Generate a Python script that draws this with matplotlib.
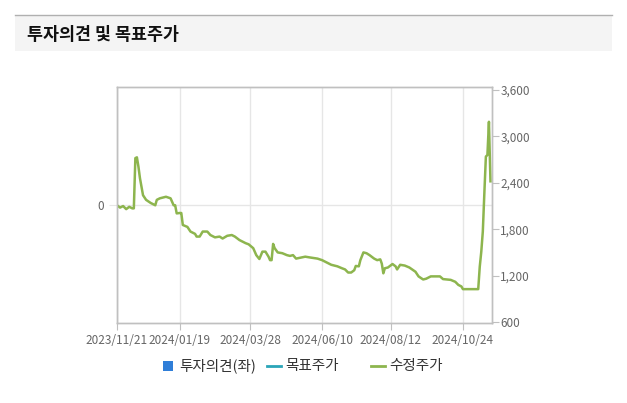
import matplotlib
matplotlib.use("Agg")
import matplotlib.pyplot as plt
from matplotlib.patches import Rectangle
from matplotlib.lines import Line2D

plt.rcParams['font.family'] = ['Noto Sans CJK KR', 'DejaVu Sans']

# ---- data (x = trading-day index from 2023/11/21) ----
tick_days = [0, 41, 87, 134, 179, 226]
tick_labels = ["2023/11/21", "2024/01/19", "2024/03/28", "2024/06/10", "2024/08/12", "2024/10/24"]
right_ticks = [600, 1200, 1800, 2400, 3000, 3600]
left_ticks = [0]

day = [0, 2, 4, 6, 8, 10, 11, 12, 13, 14, 15, 16, 17, 19, 22, 25, 26, 28, 32, 35, 37, 38, 39, 41,
       42, 43, 46, 48, 51, 52, 54, 56, 59, 61, 64, 67, 69, 72, 75, 77, 80, 84, 86, 89, 91, 93,
       95, 97, 99, 100, 101, 102, 103, 105, 108, 111, 113, 115, 117, 123, 126, 131, 134, 137,
       140, 144, 147, 149, 151, 153, 155, 156, 158, 159, 161, 163, 165, 168, 170, 172, 173, 174,
       175, 177, 180, 182, 183, 185, 188, 191, 195, 197, 200, 202, 205, 211, 213, 218, 221, 223,
       225, 226, 236, 237, 238, 239, 240, 241, 242, 243, 244]
price = [2110, 2080, 2100, 2060, 2090, 2070, 2070, 2720, 2730, 2610, 2460, 2350, 2240, 2180, 2140,
         2110, 2180, 2200, 2220, 2200, 2110, 2110, 2005, 2010, 2010, 1855, 1830, 1770, 1740, 1705,
         1705, 1770, 1770, 1725, 1695, 1705, 1680, 1715, 1725, 1705, 1660, 1620, 1605, 1555, 1465,
         1415, 1510, 1510, 1445, 1400, 1400, 1610, 1555, 1500, 1490, 1465, 1455, 1465, 1420, 1445,
         1435, 1420, 1400, 1370, 1340, 1320, 1295, 1280, 1240, 1240, 1270, 1325, 1320, 1400, 1500,
         1490, 1465, 1420, 1400, 1410, 1355, 1230, 1295, 1305, 1350, 1320, 1280, 1340, 1330,
         1305, 1250, 1190, 1150, 1160, 1190, 1190, 1155, 1145, 1120, 1080, 1060, 1025, 1025, 1315,
         1510, 1770, 2265, 2740, 2760, 3190, 2420]

legend_labels = ["투자의견(좌)", "목표주가", "수정주가"]

# ---- style ----
green = "#8db54e"
blue = "#2f7ed8"
teal = "#2aa5b8"
grid_c = "#e6e6e6"
axis_c = "#c0c0c0"
txt_c = "#666666"

W, H = 627, 403
fig = plt.figure(figsize=(W / 100, H / 100), dpi=100)
fig.patch.set_facecolor("white")

def fx(px):
    return px / W

def fy(py):
    return 1 - py / H

# title bar
fig.add_artist(Rectangle((fx(15), fy(51)), fx(612) - fx(15), fy(15) - fy(51),
                         transform=fig.transFigure, facecolor="#f4f4f4", edgecolor="none"))
fig.add_artist(Line2D([fx(15), fx(612)], [fy(15), fy(15)], transform=fig.transFigure,
                      color="#b0b0b0", lw=1))
fig.text(fx(27), fy(35), "투자의견 및 목표주가", fontsize=12.5, fontweight="bold",
         color="#111111", va="center", ha="left")

# axes
ax = fig.add_axes([fx(117), fy(323), fx(492) - fx(117), fy(87) - fy(323)])
ax.set_facecolor("white")
ax.set_xlim(0, 245)
ax.set_ylim(-1, 1)
ax.set_yticks(left_ticks)
ax.set_yticklabels([str(v) for v in left_ticks])
ax.set_xticks(tick_days)
ax.set_xticklabels(tick_labels)
ax.grid(True, color=grid_c, lw=1)
ax.set_axisbelow(True)
for s in ax.spines.values():
    s.set_color(axis_c)
    s.set_linewidth(1)
ax.tick_params(axis="x", colors=axis_c, labelcolor=txt_c, labelsize=8.5, length=5, pad=3)
ax.tick_params(axis="y", colors=grid_c, labelcolor=txt_c, labelsize=8.5, length=6, pad=3)

ax2 = ax.twinx()
ax2.set_ylim(587, 3640)
ax2.set_yticks(right_ticks)
ax2.set_yticklabels([f"{v:,}" for v in right_ticks])
ax2.tick_params(axis="y", colors=axis_c, labelcolor=txt_c, labelsize=8.5, length=5, pad=1)
for s in ax2.spines.values():
    s.set_color(axis_c)
    s.set_linewidth(1)
ax2.plot(day, price, color=green, lw=1.8, solid_joinstyle="round")

# legend (manual)
fig.add_artist(Rectangle((fx(163), fy(371)), fx(173) - fx(163), fy(361) - fy(371),
                         transform=fig.transFigure, facecolor=blue, edgecolor="none"))
fig.text(fx(179), fy(366), legend_labels[0], fontsize=10.5, color="#333333", va="center", ha="left")
fig.add_artist(Line2D([fx(267), fx(281)], [fy(366), fy(366)], transform=fig.transFigure,
                      color=teal, lw=2))
fig.text(fx(285), fy(366), legend_labels[1], fontsize=10.5, color="#333333", va="center", ha="left")
fig.add_artist(Line2D([fx(371), fx(385)], [fy(366), fy(366)], transform=fig.transFigure,
                      color=green, lw=2))
fig.text(fx(389), fy(366), legend_labels[2], fontsize=10.5, color="#333333", va="center", ha="left")

fig.savefig("out.png", dpi=100)
